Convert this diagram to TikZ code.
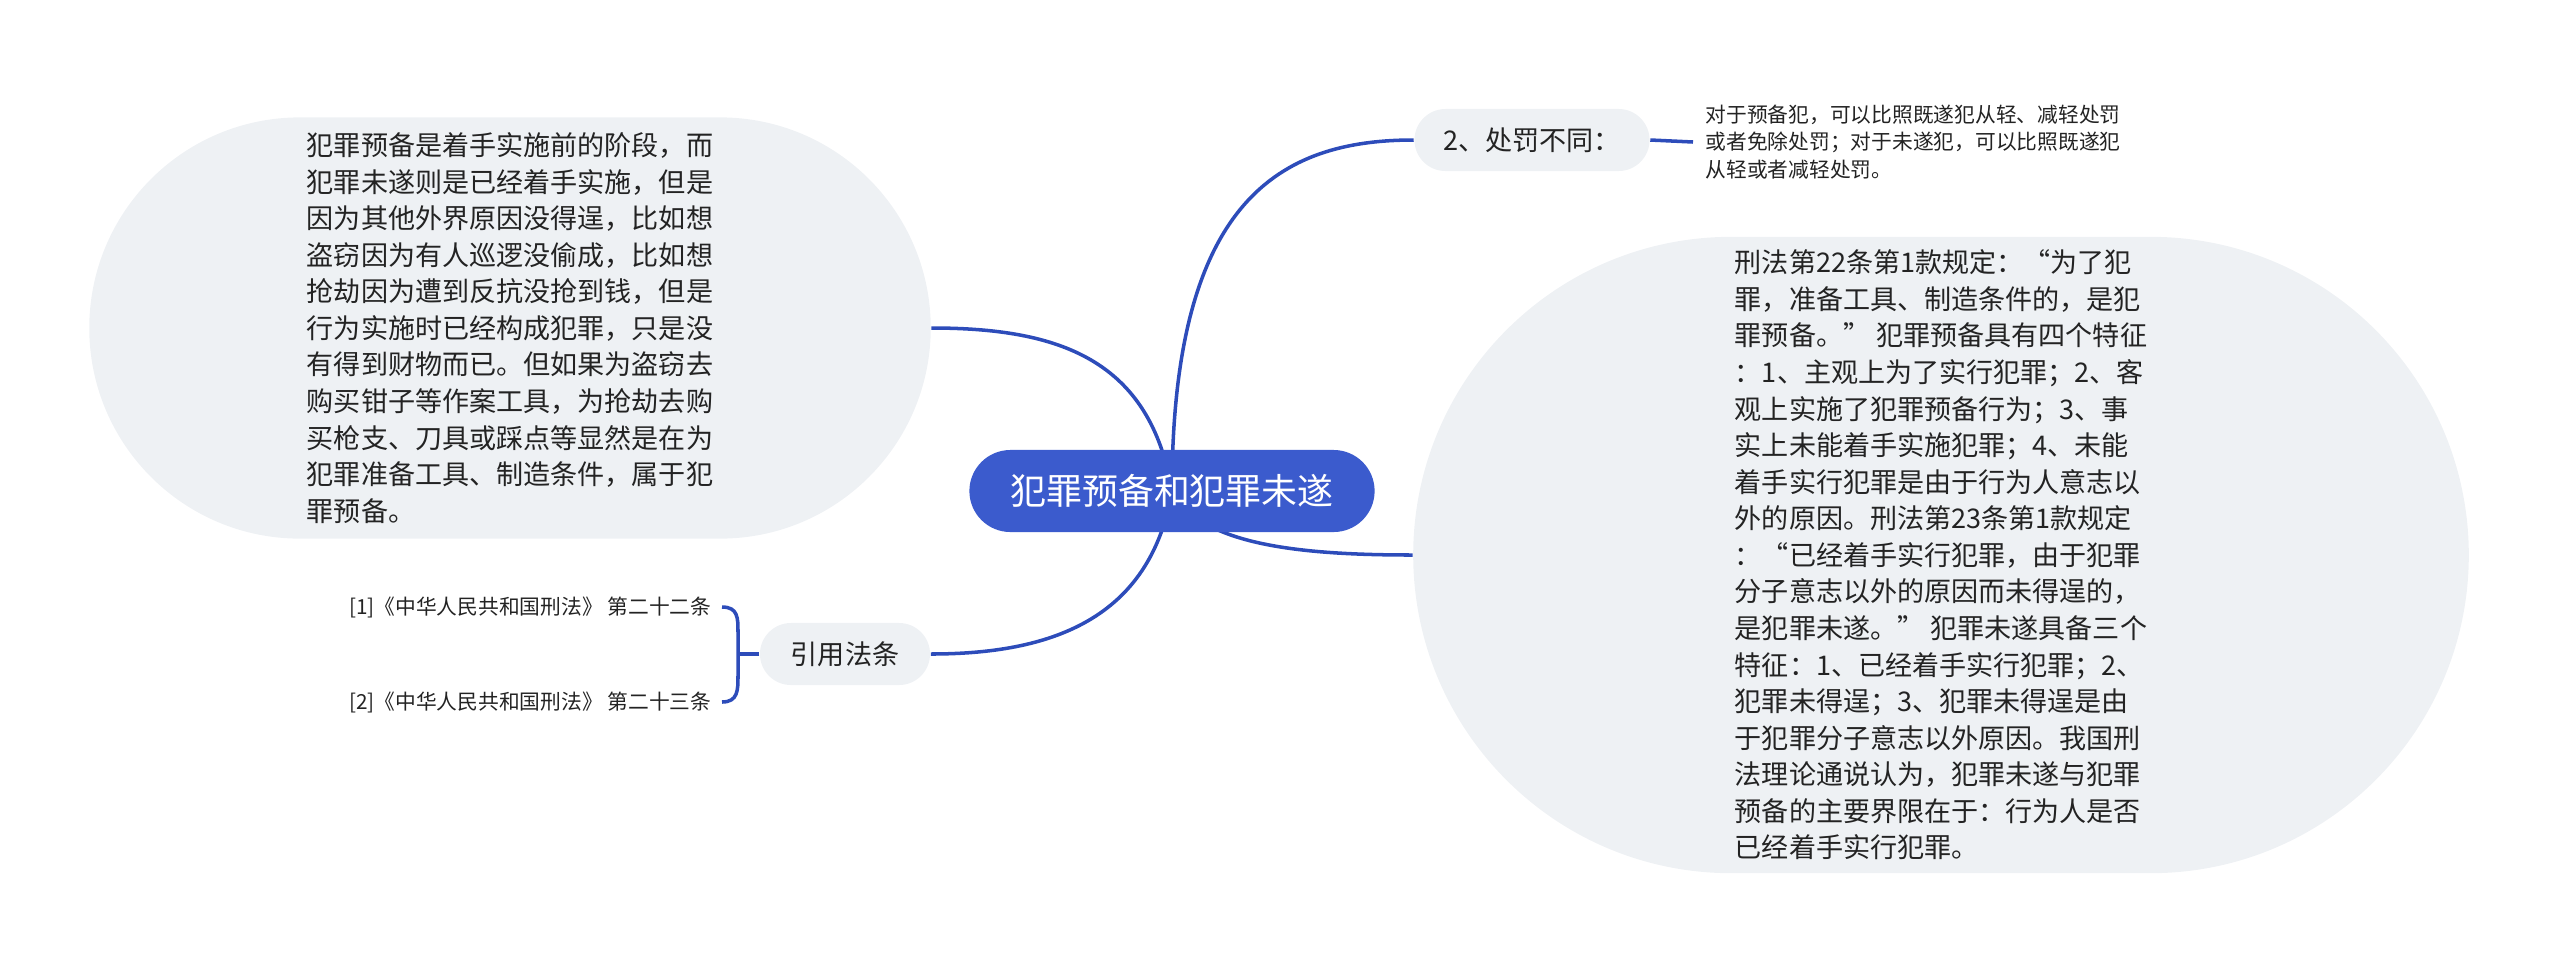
\documentclass[tikz,border=0pt]{standalone}
\usepackage{fontspec}
\setmainfont{Noto Sans CJK SC}
\usetikzlibrary{shapes.misc,backgrounds}

\definecolor{rootblue}{RGB}{59,91,205}
\definecolor{linkblue}{RGB}{45,76,186}
\definecolor{bubble}{RGB}{238,241,244}
\definecolor{ink}{RGB}{35,35,35}

\tikzset{
  topic/.style={rounded rectangle,fill=bubble,text=ink,inner sep=0pt,align=left,
    font=\fontsize{7.7}{10.4}\selectfont},
  note/.style={text=ink,inner sep=0pt,align=left,font=\fontsize{5.9}{7.8}\selectfont},
  link/.style={draw=linkblue,line width=1pt}
}

\begin{document}
\begin{tikzpicture}[x=0.01cm,y=-0.01cm]
        \useasboundingbox (0,0) rectangle (2560,963);
        \node[rounded rectangle,fill=rootblue,text=white,inner sep=0pt,
          minimum width=4.05cm,minimum height=0.82cm,font=\fontsize{10.2}{12}\selectfont]
          (root) at (1172,491) {犯罪预备和犯罪未遂};
        \node[topic,minimum width=8.41cm,minimum height=4.21cm] (prep) at (510,328)
          {犯罪预备是着手实施前的阶段，而\\犯罪未遂则是已经着手实施，但是\\
           因为其他外界原因没得逞，比如想\\盗窃因为有人巡逻没偷成，比如想\\
           抢劫因为遭到反抗没抢到钱，但是\\行为实施时已经构成犯罪，只是没\\
           有得到财物而已。但如果为盗窃去\\购买钳子等作案工具，为抢劫去购\\
           买枪支、刀具或踩点等显然是在为\\犯罪准备工具、制造条件，属于犯\\
           罪预备。};
        \node[topic,minimum width=10.55cm,minimum height=6.36cm] (law) at (1941,555)
          {刑法第22条第1款规定：“为了犯\\罪，准备工具、制造条件的，是犯\\
           罪预备。” 犯罪预备具有四个特征\\：1、主观上为了实行犯罪；2、客\\
           观上实施了犯罪预备行为；3、事\\实上未能着手实施犯罪；4、未能\\
           着手实行犯罪是由于行为人意志以\\外的原因。刑法第23条第1款规定\\
           ：“已经着手实行犯罪，由于犯罪\\分子意志以外的原因而未得逞的，\\
           是犯罪未遂。” 犯罪未遂具备三个\\特征：1、已经着手实行犯罪；2、\\
           犯罪未得逞；3、犯罪未得逞是由\\于犯罪分子意志以外原因。我国刑\\
           法理论通说认为，犯罪未遂与犯罪\\预备的主要界限在于：行为人是否\\
           已经着手实行犯罪。};
        \node[topic,minimum width=2.35cm,minimum height=0.62cm] (punish) at (1532,140) {2、处罚不同：};
        \node[note,anchor=west] (punnote) at (1705,142)
          {对于预备犯，可以比照既遂犯从轻、减轻处罚\\或者免除处罚；对于未遂犯，可以比照既遂犯\\从轻或者减轻处罚。};
        \node[topic,minimum width=1.7cm,minimum height=0.62cm] (refs) at (845,654) {引用法条};
        \node[note,anchor=east] (ref1) at (712,607) {[1]《中华人民共和国刑法》 第二十二条};
        \node[note,anchor=east] (ref2) at (712,702) {[2]《中华人民共和国刑法》 第二十三条};
        \coordinate (brk) at (738,654);
        \begin{pgfonlayer}{background}
          \draw[link] (root.center) .. controls (1172,200) and (1280,140) .. (punish.west);
          \draw[link] (root.center) .. controls (1150,360) and (1060,328) .. (prep.east);
          \draw[link] (root.center) .. controls (1150,620) and (1050,654) .. (refs.east);
          \draw[link] (root.center) .. controls (1200,545) and (1300,555) .. (law.west);
        \end{pgfonlayer}
        \draw[link] (punish.east) -- ([xshift=-0.12cm]punnote.west);
        \draw[link] (refs.west) -- (brk);
        \draw[link] ([xshift=0.1cm]ref1.east) .. controls (738,607) and (738,618) .. (738,632)
          -- (738,676) .. controls (738,690) and (738,702) .. ([xshift=0.1cm]ref2.east);
\end{tikzpicture}
\end{document}
